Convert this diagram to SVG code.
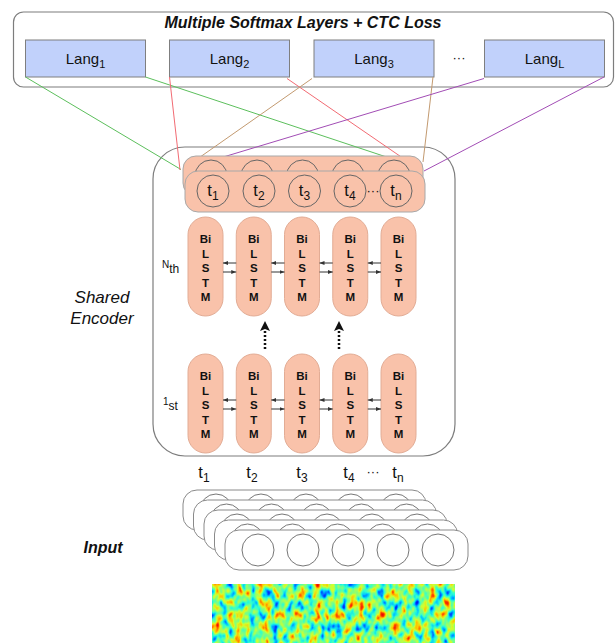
<svg xmlns="http://www.w3.org/2000/svg" width="616" height="643" viewBox="0 0 616 643">
<style>
text{font-family:"Liberation Sans",Arial,sans-serif;fill:#111}
.frame{fill:#fff;stroke:#7d7d7d;stroke-width:1.2}
.lang{fill:#c1d1fb;stroke:#7f7f7f;stroke-width:1}
.langt{font-size:15px;text-anchor:middle}
.sub{font-size:11px}
.sal{fill:#f9c2aa;stroke:#a8a8a8;stroke-width:1}
.col{fill:#f9c2aa;stroke:#e2ac95;stroke-width:1}
.circ{fill:none;stroke:#666;stroke-width:1}
.circw{fill:#fff;stroke:#777;stroke-width:1}
.inl{fill:#fff;stroke:#8a8a8a;stroke-width:1}
.bl{font-size:11.5px;font-weight:bold;text-anchor:middle}
.tl{font-size:16.5px;text-anchor:middle}
.ts{font-size:12px}
.ar{stroke:#333;stroke-width:1;fill:none;marker-end:url(#ah)}
.dot{stroke:#111;stroke-width:2.5;stroke-dasharray:2 2;fill:none}
.cn{fill:none;stroke-width:1}
</style>
<defs>
<marker id="ah" markerUnits="userSpaceOnUse" markerWidth="5" markerHeight="4" viewBox="0 0 10 8" refX="10" refY="4" orient="auto">
<path d="M0,0 L10,4 L0,8 z" fill="#333"/>
</marker>
<filter id="spec" x="212" y="584" width="243" height="59" filterUnits="userSpaceOnUse" color-interpolation-filters="sRGB">
<feTurbulence type="fractalNoise" baseFrequency="0.14 0.09" numOctaves="2" seed="11"/>
<feColorMatrix type="matrix" values="1 0 0 0 0 1 0 0 0 0 1 0 0 0 0 0 0 0 0 1"/>
<feComponentTransfer>
<feFuncR type="table" tableValues="0 0 0 0 0.18 0.5 0.82 1 1 0.9 0.5"/>
<feFuncG type="table" tableValues="0 0 0.3 0.78 1 1 1 0.78 0.3 0 0"/>
<feFuncB type="table" tableValues="0.7 0.9 1 1 0.82 0.5 0.18 0 0 0 0"/>
<feFuncA type="linear" slope="0" intercept="1"/>
</feComponentTransfer>
</filter>
</defs>

<g id="softmax-group">
<rect class="frame" x="13.5" y="12" width="600" height="75" rx="10"/>
<text x="303" y="28" style="font-size:16px;font-weight:bold;font-style:italic;text-anchor:middle">Multiple Softmax Layers + CTC Loss</text>
</g>
<g id="lang1"><rect class="lang" x="25.5" y="40" width="120" height="37"/><text class="langt" x="85.5" y="64">Lang<tspan class="sub" dy="4">1</tspan></text></g>
<g id="lang2"><rect class="lang" x="169.5" y="40" width="120" height="37"/><text class="langt" x="229.5" y="64">Lang<tspan class="sub" dy="4">2</tspan></text></g>
<g id="lang3"><rect class="lang" x="314" y="40" width="120" height="37"/><text class="langt" x="374" y="64">Lang<tspan class="sub" dy="4">3</tspan></text></g>
<g id="ellipsis-lang"><text x="459" y="62" style="font-size:13px;text-anchor:middle">···</text></g>
<g id="langL"><rect class="lang" x="484.5" y="40" width="120" height="37"/><text class="langt" x="544.5" y="64">Lang<tspan class="sub" dy="4">L</tspan></text></g>

<g id="shared-encoder">
<rect class="frame" x="153" y="147" width="302" height="309" rx="32"/>
<text x="102" y="303" style="font-size:17px;font-style:italic;text-anchor:middle">Shared</text>
<text x="102" y="324" style="font-size:17px;font-style:italic;text-anchor:middle">Encoder</text>
</g>

<g id="connectors">
<line class="cn" stroke="#5cbf5c" x1="25.5" y1="77" x2="181" y2="169.5"/>
<line class="cn" stroke="#5cbf5c" x1="145.5" y1="77" x2="388" y2="157.5"/>
<line class="cn" stroke="#f26b73" x1="169.5" y1="77" x2="180" y2="170"/>
<line class="cn" stroke="#f26b73" x1="287" y1="78.5" x2="402" y2="157.5"/>
<line class="cn" stroke="#c39a70" x1="312" y1="78.5" x2="198" y2="158.5"/>
<line class="cn" stroke="#c39a70" x1="433" y1="77" x2="423" y2="162"/>
<line class="cn" stroke="#a24db5" x1="484" y1="78.5" x2="220" y2="158"/>
<line class="cn" stroke="#a24db5" x1="604" y1="77" x2="424" y2="171"/>
</g>

<g id="output-layer">
<rect class="sal" x="183" y="156" width="240" height="40" rx="13"/>
<circle class="circ" cx="211" cy="176" r="16"/>
<circle class="circ" cx="257" cy="176" r="16"/>
<circle class="circ" cx="302.5" cy="176" r="16"/>
<circle class="circ" cx="348" cy="176" r="16"/>
<circle class="circ" cx="394" cy="176" r="16"/>
<rect class="sal" x="185" y="171" width="240" height="41" rx="13"/>
<circle class="circ" cx="213" cy="191" r="16"/>
<circle class="circ" cx="259" cy="191" r="16"/>
<circle class="circ" cx="304.5" cy="191" r="16"/>
<circle class="circ" cx="350" cy="191" r="16"/>
<circle class="circ" cx="396" cy="191" r="16"/>
<text class="tl" x="213" y="196">t<tspan class="ts" dy="4">1</tspan></text>
<text class="tl" x="259" y="196">t<tspan class="ts" dy="4">2</tspan></text>
<text class="tl" x="304.5" y="196">t<tspan class="ts" dy="4">3</tspan></text>
<text class="tl" x="350" y="196">t<tspan class="ts" dy="4">4</tspan></text>
<text x="373" y="195" style="font-size:13px;text-anchor:middle">···</text>
<text class="tl" x="396" y="196">t<tspan class="ts" dy="4">n</tspan></text>
</g>

<g id="bilstm-nth">
<text x="162" y="268" style="font-size:10px">N<tspan style="font-size:12px" dy="5">th</tspan></text>
<rect class="col" x="188" y="217" width="35" height="99" rx="17.5"/>
<rect class="col" x="236.25" y="217" width="35" height="99" rx="17.5"/>
<rect class="col" x="284.5" y="217" width="35" height="99" rx="17.5"/>
<rect class="col" x="332.75" y="217" width="35" height="99" rx="17.5"/>
<rect class="col" x="381" y="217" width="35" height="99" rx="17.5"/>
<text class="bl" x="205.5" y="243">Bi</text><text class="bl" x="205.5" y="257.5">L</text><text class="bl" x="205.5" y="272">S</text><text class="bl" x="205.5" y="286.5">T</text><text class="bl" x="205.5" y="301">M</text>
<text class="bl" x="253.75" y="243">Bi</text><text class="bl" x="253.75" y="257.5">L</text><text class="bl" x="253.75" y="272">S</text><text class="bl" x="253.75" y="286.5">T</text><text class="bl" x="253.75" y="301">M</text>
<text class="bl" x="302" y="243">Bi</text><text class="bl" x="302" y="257.5">L</text><text class="bl" x="302" y="272">S</text><text class="bl" x="302" y="286.5">T</text><text class="bl" x="302" y="301">M</text>
<text class="bl" x="350.25" y="243">Bi</text><text class="bl" x="350.25" y="257.5">L</text><text class="bl" x="350.25" y="272">S</text><text class="bl" x="350.25" y="286.5">T</text><text class="bl" x="350.25" y="301">M</text>
<text class="bl" x="398.5" y="243">Bi</text><text class="bl" x="398.5" y="257.5">L</text><text class="bl" x="398.5" y="272">S</text><text class="bl" x="398.5" y="286.5">T</text><text class="bl" x="398.5" y="301">M</text>
<line class="ar" x1="236.25" y1="263" x2="223" y2="263"/><line class="ar" x1="223" y1="272" x2="236.25" y2="272"/>
<line class="ar" x1="284.5" y1="263" x2="271.25" y2="263"/><line class="ar" x1="271.25" y1="272" x2="284.5" y2="272"/>
<line class="ar" x1="332.75" y1="263" x2="319.5" y2="263"/><line class="ar" x1="319.5" y1="272" x2="332.75" y2="272"/>
<line class="ar" x1="381" y1="263" x2="367.75" y2="263"/><line class="ar" x1="367.75" y1="272" x2="381" y2="272"/>
</g>

<g id="stack-arrows">
<line class="dot" x1="265" y1="349" x2="265" y2="330"/>
<path d="M265,321 L270,331 L265,329 L260,331 z" fill="#111"/>
<line class="dot" x1="339" y1="349" x2="339" y2="330"/>
<path d="M339,321 L344,331 L339,329 L334,331 z" fill="#111"/>
</g>

<g id="bilstm-1st">
<text x="163" y="405" style="font-size:10px">1<tspan style="font-size:12px" dy="5">st</tspan></text>
<rect class="col" x="188" y="354" width="35" height="99" rx="17.5"/>
<rect class="col" x="236.25" y="354" width="35" height="99" rx="17.5"/>
<rect class="col" x="284.5" y="354" width="35" height="99" rx="17.5"/>
<rect class="col" x="332.75" y="354" width="35" height="99" rx="17.5"/>
<rect class="col" x="381" y="354" width="35" height="99" rx="17.5"/>
<text class="bl" x="205.5" y="380">Bi</text><text class="bl" x="205.5" y="394.5">L</text><text class="bl" x="205.5" y="409">S</text><text class="bl" x="205.5" y="423.5">T</text><text class="bl" x="205.5" y="438">M</text>
<text class="bl" x="253.75" y="380">Bi</text><text class="bl" x="253.75" y="394.5">L</text><text class="bl" x="253.75" y="409">S</text><text class="bl" x="253.75" y="423.5">T</text><text class="bl" x="253.75" y="438">M</text>
<text class="bl" x="302" y="380">Bi</text><text class="bl" x="302" y="394.5">L</text><text class="bl" x="302" y="409">S</text><text class="bl" x="302" y="423.5">T</text><text class="bl" x="302" y="438">M</text>
<text class="bl" x="350.25" y="380">Bi</text><text class="bl" x="350.25" y="394.5">L</text><text class="bl" x="350.25" y="409">S</text><text class="bl" x="350.25" y="423.5">T</text><text class="bl" x="350.25" y="438">M</text>
<text class="bl" x="398.5" y="380">Bi</text><text class="bl" x="398.5" y="394.5">L</text><text class="bl" x="398.5" y="409">S</text><text class="bl" x="398.5" y="423.5">T</text><text class="bl" x="398.5" y="438">M</text>
<line class="ar" x1="236.25" y1="400" x2="223" y2="400"/><line class="ar" x1="223" y1="409" x2="236.25" y2="409"/>
<line class="ar" x1="284.5" y1="400" x2="271.25" y2="400"/><line class="ar" x1="271.25" y1="409" x2="284.5" y2="409"/>
<line class="ar" x1="332.75" y1="400" x2="319.5" y2="400"/><line class="ar" x1="319.5" y1="409" x2="332.75" y2="409"/>
<line class="ar" x1="381" y1="400" x2="367.75" y2="400"/><line class="ar" x1="367.75" y1="409" x2="381" y2="409"/>
</g>

<g id="time-labels">
<text class="tl" x="204" y="478">t<tspan class="ts" dy="4">1</tspan></text>
<text class="tl" x="252" y="478">t<tspan class="ts" dy="4">2</tspan></text>
<text class="tl" x="302" y="478">t<tspan class="ts" dy="4">3</tspan></text>
<text class="tl" x="349" y="478">t<tspan class="ts" dy="4">4</tspan></text>
<text x="373" y="476" style="font-size:13px;text-anchor:middle">···</text>
<text class="tl" x="398" y="478">t<tspan class="ts" dy="4">n</tspan></text>
</g>

<g id="input">
<text x="103" y="553" style="font-size:16px;font-weight:bold;font-style:italic;text-anchor:middle">Input</text>
<rect class="inl" x="183" y="490" width="243" height="40" rx="14"/>
<circle class="circw" cx="216" cy="510" r="16"/><circle class="circw" cx="261" cy="510" r="16"/><circle class="circw" cx="306" cy="510" r="16"/><circle class="circw" cx="351" cy="510" r="16"/><circle class="circw" cx="396" cy="510" r="16"/>
<rect class="inl" x="193.5" y="500" width="243" height="40" rx="14"/>
<circle class="circw" cx="226.5" cy="520" r="16"/><circle class="circw" cx="271.5" cy="520" r="16"/><circle class="circw" cx="316.5" cy="520" r="16"/><circle class="circw" cx="361.5" cy="520" r="16"/><circle class="circw" cx="406.5" cy="520" r="16"/>
<rect class="inl" x="204" y="510" width="243" height="40" rx="14"/>
<circle class="circw" cx="237" cy="530" r="16"/><circle class="circw" cx="282" cy="530" r="16"/><circle class="circw" cx="327" cy="530" r="16"/><circle class="circw" cx="372" cy="530" r="16"/><circle class="circw" cx="417" cy="530" r="16"/>
<rect class="inl" x="214.5" y="520" width="243" height="40" rx="14"/>
<circle class="circw" cx="247.5" cy="540" r="16"/><circle class="circw" cx="292.5" cy="540" r="16"/><circle class="circw" cx="337.5" cy="540" r="16"/><circle class="circw" cx="382.5" cy="540" r="16"/><circle class="circw" cx="427.5" cy="540" r="16"/>
<rect class="inl" x="225" y="530" width="243" height="40" rx="14"/>
<circle class="circw" cx="258" cy="550" r="16"/><circle class="circw" cx="303" cy="550" r="16"/><circle class="circw" cx="348" cy="550" r="16"/><circle class="circw" cx="393" cy="550" r="16"/><circle class="circw" cx="438" cy="550" r="16"/>
</g>

<g id="spectrogram">
<rect x="212" y="584" width="243" height="59" fill="#7fe07f" filter="url(#spec)"/>
</g>
</svg>
